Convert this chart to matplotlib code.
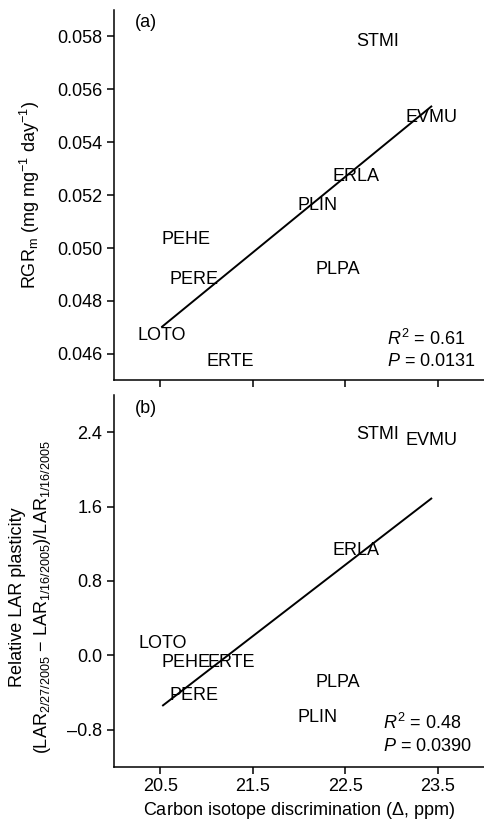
import matplotlib
matplotlib.use("Agg")
import matplotlib.pyplot as plt
import numpy as np

plt.rcParams['font.family'] = ['Liberation Sans', 'DejaVu Sans']
plt.rcParams['mathtext.fontset'] = 'custom'
plt.rcParams['mathtext.rm'] = 'Liberation Sans'
plt.rcParams['mathtext.it'] = 'Liberation Sans:italic'

# species codes, drawn as the markers
species_a = ["STMI", "EVMU", "ERLA", "PLIN", "PEHE", "PLPA", "PERE", "LOTO", "ERTE"]
delta_a = [22.85, 23.43, 22.62, 22.20, 20.78, 22.42, 20.87, 20.52, 21.26]
rgr = [0.0578, 0.05492, 0.05271, 0.05161, 0.05031, 0.0492, 0.04882, 0.04671, 0.04573]
fit_a = [0.00286, -0.01166]  # slope, intercept

species_b = ["STMI", "EVMU", "ERLA", "LOTO", "PEHE", "ERTE", "PLPA", "PERE", "PLIN"]
delta_b = [22.85, 23.43, 22.62, 20.53, 20.78, 21.27, 22.42, 20.87, 22.20]
lar = [2.375, 2.306, 1.130, 0.126, -0.079, -0.079, -0.294, -0.430, -0.674]
fit_b = [0.7675, -16.297]

xticks = [20.5, 21.5, 22.5, 23.5]
yticks_a = [0.046, 0.048, 0.050, 0.052, 0.054, 0.056, 0.058]
yticks_b = [-0.8, 0.0, 0.8, 1.6, 2.4]

fig = plt.figure(figsize=(4.84, 8.25), dpi=100)
ax1 = fig.add_axes([0.2355, 0.539, 0.7645, 0.449])
ax2 = fig.add_axes([0.2355, 0.0707, 0.7645, 0.4505])

def style(ax):
    for s in ['top', 'right']:
        ax.spines[s].set_visible(False)
    for s in ['left', 'bottom']:
        ax.spines[s].set_linewidth(1.1)
    ax.tick_params(direction='out', length=5, width=1.1, labelsize=13)
    ax.set_xlim(20.0, 24.0)
    ax.set_xticks(xticks)

style(ax1)
style(ax2)

# panel (a)
for name, x, y in zip(species_a, delta_a, rgr):
    ax1.text(x, y, name, ha='center', va='center', fontsize=13)
xs = np.array([min(delta_a), max(delta_a)])
ax1.plot(xs, fit_a[0] * xs + fit_a[1], color='black', lw=1.4)
ax1.set_ylim(0.045, 0.059)
ax1.set_yticks(yticks_a)
ax1.set_yticklabels(["%.3f" % v for v in yticks_a])
ax1.set_xticklabels([])
ax1.set_ylabel(r"RGR$_\mathrm{m}$ (mg mg$^{-1}$ day$^{-1}$)", fontsize=13)
ax1.yaxis.set_label_coords(-0.195, 0.5)
ax1.text(0.086, 0.965, "(a)", transform=ax1.transAxes, ha='center', va='center', fontsize=13)
ax1.text(0.737, 0.113, r"$R^2$ = 0.61", transform=ax1.transAxes, ha='left', va='center', fontsize=13)
ax1.text(0.737, 0.051, r"$P$ = 0.0131", transform=ax1.transAxes, ha='left', va='center', fontsize=13)

# panel (b)
for name, x, y in zip(species_b, delta_b, lar):
    ax2.text(x, y, name, ha='center', va='center', fontsize=13)
xs = np.array([min(delta_b), max(delta_b)])
ax2.plot(xs, fit_b[0] * xs + fit_b[1], color='black', lw=1.4)
ax2.set_ylim(-1.2, 2.8)
ax2.set_yticks(yticks_b)
ax2.set_yticklabels([("%.1f" % v).replace("-", "\u2013") for v in yticks_b])
ax2.set_xticklabels(["%.1f" % v for v in xticks])
ax2.set_ylabel("Relative LAR plasticity\n"
               r"(LAR$_{2/27/2005}$ $-$ LAR$_{1/16/2005}$)/LAR$_{1/16/2005}$",
               fontsize=13, linespacing=1.35)
ax2.yaxis.set_label_coords(-0.166, 0.457)
ax2.set_xlabel(r"Carbon isotope discrimination ($\Delta$, ppm)", fontsize=13, labelpad=3)
ax2.text(0.086, 0.964, "(b)", transform=ax2.transAxes, ha='center', va='center', fontsize=13)
ax2.text(0.728, 0.117, r"$R^2$ = 0.48", transform=ax2.transAxes, ha='left', va='center', fontsize=13)
ax2.text(0.728, 0.054, r"$P$ = 0.0390", transform=ax2.transAxes, ha='left', va='center', fontsize=13)

fig.savefig("out.png", dpi=100)
